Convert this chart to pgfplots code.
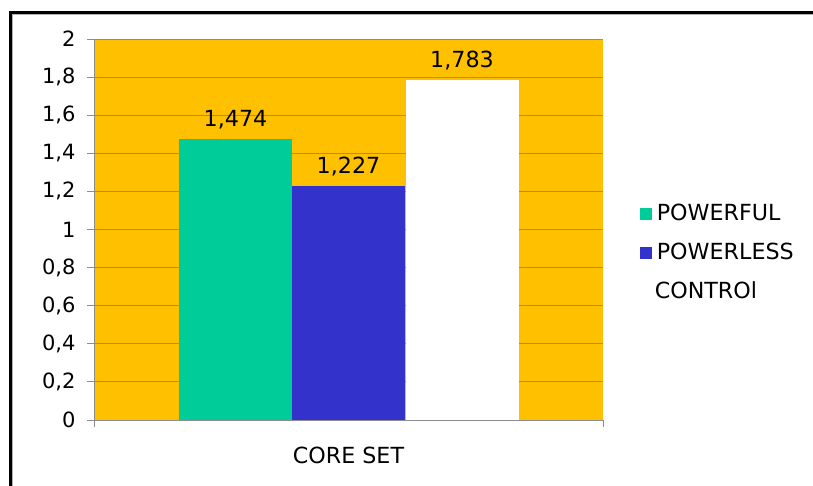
\documentclass[border=0pt]{standalone}
\usepackage{pgfplots}
\pgfplotsset{compat=1.18}
\usepackage{fontspec}
\setmainfont{DejaVu Sans}
\definecolor{orangeC}{HTML}{FFC000}
\definecolor{greenC}{HTML}{00CC99}
\definecolor{blueC}{HTML}{3333CC}
\definecolor{gridC}{HTML}{8C8C8C}
\newcommand{\bigf}{\fontsize{21}{25}\selectfont}
\newcommand{\largef}{\fontsize{22.2}{26}\selectfont}
\begin{document}
\begin{tikzpicture}
\path[use as bounding box] (0pt,0pt) rectangle (813pt,486pt);
\fill[white] (0pt,0pt) rectangle (813pt,486pt);
\draw[gray!60, line width=1.3pt] (12.7pt,0pt) -- (12.7pt,471.3pt) -- (813pt,471.3pt);
\draw[black, line width=2.6pt] (10.7pt,0pt) -- (10.7pt,473.2pt) -- (813pt,473.2pt);
\begin{axis}[
  at={(94pt,66pt)}, anchor=south west,
  scale only axis, width=509pt, height=381pt,
  xmin=0, xmax=509, ymin=0, ymax=2,
  axis background/.style={fill=orangeC},
  axis x line*=bottom, axis y line*=left,
  axis line style={gridC, line width=0.8pt, -},
  ytick={0,0.2,0.4,0.6,0.8,1,1.2,1.4,1.6,1.8,2},
  xtick={0,509}, xticklabels={},
  tick align=outside, major tick length=7pt,
  ymajorgrids, grid style={gridC, line width=0.8pt},
  tick style={gridC, line width=0.8pt},
  ticklabel style={font=\bigf, black},
  yticklabel style={xshift=-8pt},
  /pgf/number format/use comma,
  /pgf/number format/assume math mode=true,
  xlabel={CORE SET},
  xlabel style={at={(axis description cs:0.5,0)}, anchor=center, yshift=-35pt, font=\largef},
  nodes near coords={\pgfmathprintnumber[fixed,precision=3,use comma]{\pgfplotspointmeta}},
  every node near coord/.append style={font=\largef, black, yshift=7pt},
  legend style={at={(1.072,0.441)}, anchor=west, draw=none, fill=none, font=\largef,
    inner sep=0pt, row sep=23pt,
    nodes={inner sep=0pt, text height=16pt, text depth=0pt}},
  legend cell align=left,
  legend image code/.code={\fill[#1] (0pt,-7pt) rectangle (12pt,5pt);},
  /tikz/every even column/.append style={column sep=0pt},
]
\addplot[ybar, bar width=113pt, fill=greenC, draw=none] coordinates {(141.5,1.474)};
\addlegendentry{\hspace{5pt}POWERFUL}
\addplot[ybar, bar width=113pt, fill=blueC, draw=none] coordinates {(254.5,1.227)};
\addlegendentry{\hspace{5pt}POWERLESS}
\addplot[ybar, bar width=113pt, fill=white, draw=none] coordinates {(368,1.783)};
\addlegendentry{\hspace{3pt}CONTROl}
\end{axis}
\end{tikzpicture}
\end{document}
